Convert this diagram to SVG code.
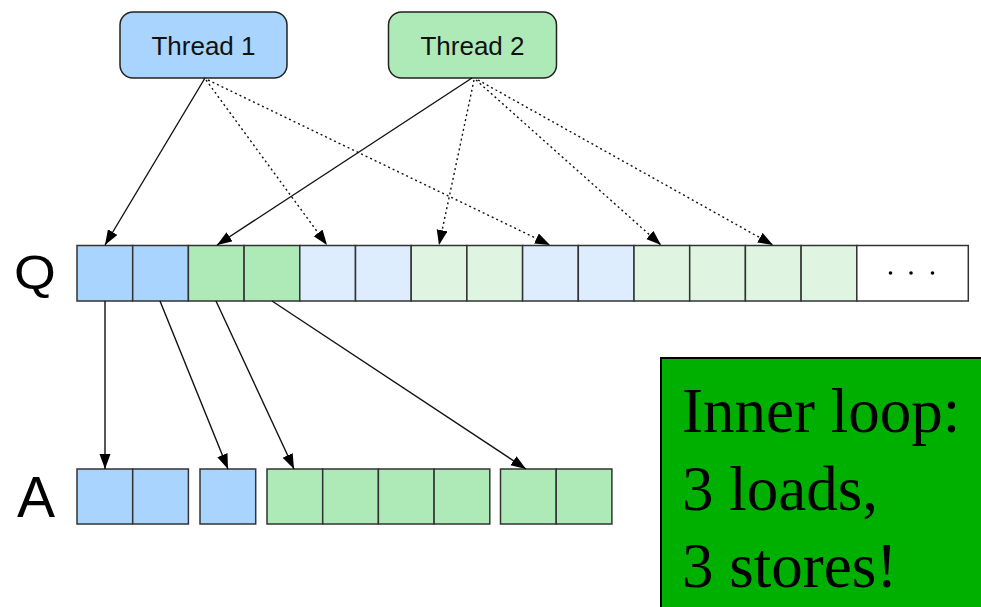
<svg xmlns="http://www.w3.org/2000/svg" width="981" height="607" viewBox="0 0 981 607">
  <defs>
    <marker id="arrow" markerUnits="userSpaceOnUse" markerWidth="16" markerHeight="12" refX="15" refY="5.5" orient="auto">
      <path d="M0,0 L15,5.5 L0,11 z" fill="#000"/>
    </marker>
    <style>
      .thread { stroke: #222; stroke-width: 1.5; }
      .t1 { fill: #a8d4fe; }
      .t2 { fill: #aeeab8; }
      .lt1 { fill: #ddedfe; }
      .lt2 { fill: #dff5e2; }
      .none { fill: #ffffff; }
      .cell { stroke: #333; stroke-width: 1.5; }
      .label { font-family: "Liberation Sans", Arial, sans-serif; fill: #111; }
      .big { font-family: "Liberation Sans", Arial, sans-serif; fill: #000; }
      .solid { stroke: #111; stroke-width: 1.4; fill: none; marker-end: url(#arrow); }
      .dotted { stroke: #111; stroke-width: 1.4; fill: none; stroke-dasharray: 2 3; marker-end: url(#arrow); }
      .note { font-family: "Liberation Serif", "Times New Roman", serif; font-size: 63px; fill: #000; }
    </style>
  </defs>

  <rect width="981" height="607" fill="#ffffff"/>

  <!-- threads -->
  <g id="thread1">
    <rect class="thread t1" x="120" y="12" width="167" height="66" rx="13"/>
    <text class="label" x="203.5" y="55" font-size="26" text-anchor="middle">Thread 1</text>
  </g>
  <g id="thread2">
    <rect class="thread t2" x="388.5" y="12" width="168" height="66" rx="13"/>
    <text class="label" x="472.5" y="55" font-size="26" text-anchor="middle">Thread 2</text>
  </g>

  <!-- queue Q -->
  <g id="queue">
    <text class="big" font-size="48" transform="translate(14,289) scale(1.12,1)">Q</text>
    <rect class="cell t1" x="77" y="245.5" width="55.7" height="55.5"/>
    <rect class="cell t1" x="132.7" y="245.5" width="55.7" height="55.5"/>
    <rect class="cell t2" x="188.4" y="245.5" width="55.7" height="55.5"/>
    <rect class="cell t2" x="244.1" y="245.5" width="55.7" height="55.5"/>
    <rect class="cell lt1" x="299.8" y="245.5" width="55.7" height="55.5"/>
    <rect class="cell lt1" x="355.5" y="245.5" width="55.7" height="55.5"/>
    <rect class="cell lt2" x="411.2" y="245.5" width="55.7" height="55.5"/>
    <rect class="cell lt2" x="466.9" y="245.5" width="55.7" height="55.5"/>
    <rect class="cell lt1" x="522.6" y="245.5" width="55.7" height="55.5"/>
    <rect class="cell lt1" x="578.3" y="245.5" width="55.7" height="55.5"/>
    <rect class="cell lt2" x="634" y="245.5" width="55.7" height="55.5"/>
    <rect class="cell lt2" x="689.7" y="245.5" width="55.7" height="55.5"/>
    <rect class="cell lt2" x="745.4" y="245.5" width="55.7" height="55.5"/>
    <rect class="cell lt2" x="801.1" y="245.5" width="55.7" height="55.5"/>
    <rect class="cell none" x="856.8" y="245.5" width="111.5" height="55.5"/>
    <circle cx="890.5" cy="273" r="1.8" fill="#000"/>
    <circle cx="911" cy="273" r="1.8" fill="#000"/>
    <circle cx="932.5" cy="273" r="1.8" fill="#000"/>
  </g>

  <!-- array A -->
  <g id="array">
    <text class="big" x="17" y="517" font-size="57">A</text>
    <rect class="cell t1" x="77" y="469" width="55.7" height="55"/>
    <rect class="cell t1" x="132.7" y="469" width="55.7" height="55"/>
    <rect class="cell t1" x="200" y="469" width="55.7" height="55"/>
    <rect class="cell t2" x="267" y="469" width="55.7" height="55"/>
    <rect class="cell t2" x="322.7" y="469" width="55.7" height="55"/>
    <rect class="cell t2" x="378.4" y="469" width="55.7" height="55"/>
    <rect class="cell t2" x="434.1" y="469" width="55.7" height="55"/>
    <rect class="cell t2" x="500.5" y="469" width="55.7" height="55"/>
    <rect class="cell t2" x="556.2" y="469" width="55.7" height="55"/>
  </g>

  <!-- connectors -->
  <g id="connectors">
    <line class="solid" x1="205" y1="78" x2="105" y2="245"/>
    <line class="dotted" x1="206" y1="80" x2="327" y2="245"/>
    <line class="dotted" x1="208" y1="80" x2="550" y2="245"/>
    <line class="solid" x1="472" y1="78" x2="217" y2="245"/>
    <line class="dotted" x1="474" y1="80" x2="439" y2="245"/>
    <line class="dotted" x1="476" y1="80" x2="661" y2="245"/>
    <line class="dotted" x1="478" y1="80" x2="773" y2="245"/>
    <line class="solid" x1="105" y1="301" x2="105" y2="469"/>
    <line class="solid" x1="160" y1="301" x2="228" y2="469"/>
    <line class="solid" x1="216" y1="301" x2="294" y2="469"/>
    <line class="solid" x1="272" y1="301" x2="526" y2="469"/>
  </g>

  <!-- note box -->
  <g id="note">
    <rect x="661" y="358" width="330" height="260" fill="#00b000" stroke="#000" stroke-width="2"/>
    <text class="note" x="682" y="432">Inner loop:</text>
    <text class="note" x="682" y="510">3 loads,</text>
    <text class="note" x="682" y="587">3 stores!</text>
  </g>
</svg>
